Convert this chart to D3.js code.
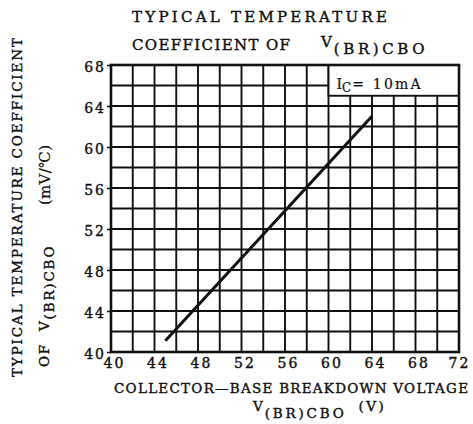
<!DOCTYPE html>
<html>
<head>
<meta charset="utf-8">
<script src="https://cdn.jsdelivr.net/npm/d3@7/dist/d3.min.js"></script>
<style>
body { margin: 0; background: #fff; }
text { font-family: "DejaVu Serif", "Liberation Serif", serif; fill: #111; stroke: #111; stroke-width: 0.4px; }
</style>
</head>
<body>
<svg width="473" height="424"></svg>
<script>
// chart values
var xDomain = [40, 72];
var yDomain = [40, 68];
var xTickLabels = [40, 44, 48, 52, 56, 60, 64, 68, 72];
var yTickLabels = [40, 44, 48, 52, 56, 60, 64, 68];
var curveX = [45, 64];
var curveY = [41.1, 63];
var legendText = ["I", "C", "= 10mA"];

var svg = d3.select("svg");

var x = d3.scaleLinear().domain(xDomain).range([111, 459]);
var y = d3.scaleLinear().domain(yDomain).range([352, 65]);

// grid every 2 units
var grid = svg.append("g").attr("stroke", "#111").attr("stroke-width", 1.9);
grid.selectAll("line.v")
    .data(x.ticks(16))
    .enter().append("line")
    .attr("x1", function(d) { return x(d); })
    .attr("x2", function(d) { return x(d); })
    .attr("y1", y(yDomain[0]))
    .attr("y2", y(yDomain[1]));
grid.selectAll("line.h")
    .data(y.ticks(14))
    .enter().append("line")
    .attr("x1", x(xDomain[0]))
    .attr("x2", x(xDomain[1]))
    .attr("y1", function(d) { return y(d); })
    .attr("y2", function(d) { return y(d); });

// legend box sits over the grid in the top right corner
svg.append("rect")
    .attr("x", x(60))
    .attr("y", y(68))
    .attr("width", x(72) - x(60))
    .attr("height", y(65) - y(68))
    .attr("fill", "#fff")
    .attr("stroke", "#111")
    .attr("stroke-width", 1.9);

var leg = svg.append("text").attr("x", x(60) + 8).attr("y", 89)
    .style("font-size", "14px").style("stroke-width", "0.2px");
leg.append("tspan").text(legendText[0]);
leg.append("tspan").attr("dy", 3).style("font-size", "12px").text(legendText[1]);
leg.append("tspan").attr("dy", -3).attr("dx", 1).attr("letter-spacing", 2.2).text(legendText[2]);

// frame
svg.append("rect")
    .attr("x", x(xDomain[0]))
    .attr("y", y(yDomain[1]))
    .attr("width", x(xDomain[1]) - x(xDomain[0]))
    .attr("height", y(yDomain[0]) - y(yDomain[1]))
    .attr("fill", "none")
    .attr("stroke", "#111")
    .attr("stroke-width", 2.6);

// axes
var xAxis = d3.axisBottom(x).tickValues(xTickLabels).tickSize(0).tickPadding(6);
var yAxis = d3.axisLeft(y).tickValues(yTickLabels).tickSize(4).tickPadding(1);

var gx = svg.append("g").attr("transform", "translate(0," + y(yDomain[0]) + ")").call(xAxis);
var gy = svg.append("g").attr("transform", "translate(" + x(xDomain[0]) + ",0)").call(yAxis);
[gx, gy].forEach(function(g) {
    g.select(".domain").remove();
    g.selectAll("line").attr("stroke", "#111").attr("stroke-width", 1.5);
    g.selectAll("text")
        .attr("fill", "#111")
        .style("font-family", '"DejaVu Serif", serif')
        .style("font-size", "14px")
        .attr("letter-spacing", 2);
});
gy.selectAll("text").attr("dy", "0.45em");
gx.selectAll("text").attr("dx", function(d) { return d === 72 ? 0 : 3; });

// the curve
var line = d3.line()
    .x(function(d) { return x(d[0]); })
    .y(function(d) { return y(d[1]); });
svg.append("path")
    .datum(d3.zip(curveX, curveY))
    .attr("d", line)
    .attr("fill", "none")
    .attr("stroke", "#111")
    .attr("stroke-width", 3);

// title
svg.append("text").attr("x", 132).attr("y", 22)
    .attr("textLength", 255).attr("lengthAdjust", "spacing")
    .style("font-size", "15px").text("TYPICAL TEMPERATURE");
svg.append("text").attr("x", 132).attr("y", 50)
    .attr("textLength", 158).attr("lengthAdjust", "spacing")
    .style("font-size", "15px").text("COEFFICIENT OF");
var t2 = svg.append("text").attr("x", 321).attr("y", 47).style("font-size", "15px");
t2.append("tspan").text("V");
t2.append("tspan").attr("dy", 7).attr("dx", 2).attr("letter-spacing", 3.6).text("(BR)CBO");

// x label
svg.append("text").attr("x", 114).attr("y", 393)
    .attr("textLength", 354).attr("lengthAdjust", "spacing")
    .style("font-size", "13.5px").text("COLLECTOR\u2014BASE BREAKDOWN VOLTAGE");
var xl = svg.append("text").attr("x", 253).attr("y", 411).style("font-size", "13.5px");
xl.append("tspan").text("V");
xl.append("tspan").attr("dy", 7).attr("dx", 2).attr("letter-spacing", 2.8).text("(BR)CBO");
xl.append("tspan").attr("dy", -7).attr("dx", 12).attr("letter-spacing", 2.5).text("(V)");

// y label
svg.append("text").attr("transform", "translate(22,377) rotate(-90)")
    .attr("textLength", 339).attr("lengthAdjust", "spacing")
    .style("font-size", "13.5px").text("TYPICAL TEMPERATURE COEFFICIENT");
var yl = svg.append("text").attr("transform", "translate(49,367) rotate(-90)")
    .style("font-size", "13.5px").attr("letter-spacing", 1.8);
yl.append("tspan").text("OF");
yl.append("tspan").attr("dx", 12).text("V");
yl.append("tspan").attr("dy", 5).attr("dx", 0).text("(BR)CBO");
svg.append("text").attr("transform", "translate(50,205) rotate(-90)")
    .attr("textLength", 60).attr("lengthAdjust", "spacing")
    .style("font-size", "15px").style("stroke-width", "0.2px").text("(mV/\u2103)");
</script>
</body>
</html>
